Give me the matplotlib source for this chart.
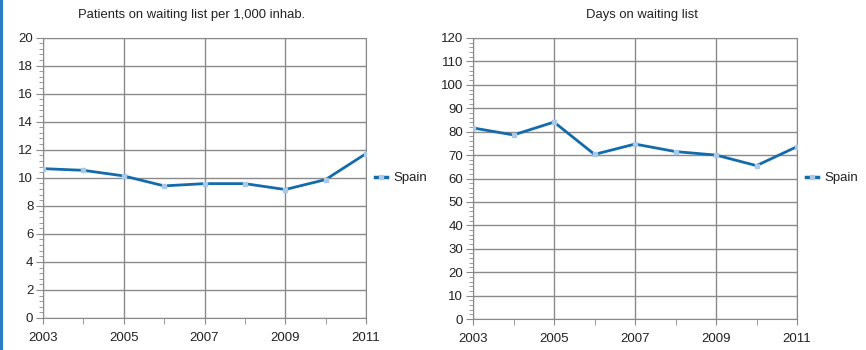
import matplotlib
matplotlib.use('Agg')
import matplotlib.pyplot as plt
from matplotlib.ticker import MultipleLocator
from matplotlib.lines import Line2D

plt.rcParams['font.family'] = ['Liberation Sans', 'DejaVu Sans']
plt.rcParams['font.size'] = 9.5

years = [2003, 2004, 2005, 2006, 2007, 2008, 2009, 2010, 2011]
patients_per_1000 = [10.65, 10.53, 10.13, 9.42, 9.58, 9.58, 9.16, 9.87, 11.72]
days_on_list = [81.6, 78.6, 84.1, 70.3, 74.7, 71.5, 70.0, 65.5, 73.6]
country = "Spain"

LINE = "#136bab"
MARK = "#a9c9e8"
GRID = "#8a8a8a"
TEXT = "#222222"

fig = plt.figure(figsize=(8.66, 3.5), dpi=100)

# blue rule on the left edge of the page
fig.add_artist(Line2D([0.0015, 0.0015], [0, 1], color="#2b7cc4", lw=2.2,
                      transform=fig.transFigure))


def draw_panel(rect, values, ymax, ystep, yminor, title, title_x, legend_x):
    ax = fig.add_axes(rect)
    ax.plot(years, values, color=LINE, lw=2, marker="s", ms=3.2,
            mfc=MARK, mec=MARK, zorder=3)
    ax.set_xlim(2003, 2011)
    ax.set_ylim(0, ymax)
    ax.xaxis.set_major_locator(MultipleLocator(2))
    ax.xaxis.set_minor_locator(MultipleLocator(1))
    ax.yaxis.set_major_locator(MultipleLocator(ystep))
    ax.yaxis.set_minor_locator(MultipleLocator(yminor))
    ax.grid(True, which="major", color=GRID, lw=1)
    for s in ax.spines.values():
        s.set_color(GRID)
    ax.tick_params(which="both", colors=GRID, labelcolor=TEXT, direction="out")
    ax.tick_params(axis="x", which="both", length=4, pad=6)
    ax.tick_params(axis="y", which="major", length=5, pad=2)
    ax.tick_params(axis="y", which="minor", length=3)
    ax.set_xticks(range(2003, 2012, 2))
    ax.set_xticklabels([str(y) for y in range(2003, 2012, 2)])
    fig.text(title_x, 1 - 15 / 350, title, ha="center", va="center",
             color=TEXT, fontsize=9.4)
    handle = Line2D([], [], color=LINE, lw=2.5, marker="s", ms=3.5,
                    mfc=MARK, mec=MARK)
    fig.legend([handle], [country], loc="center left",
               bbox_to_anchor=(legend_x, 1 - 178 / 350), frameon=False,
               borderaxespad=0, borderpad=0,
               handlelength=0.9, handletextpad=0.5, fontsize=9.5,
               labelcolor=TEXT)
    return ax


draw_panel([43 / 866, 1 - 318 / 350, 323 / 866, 280.5 / 350],
           patients_per_1000, 20, 2, 0.4,
           "Patients on waiting list per 1,000 inhab.", 192 / 866, 375 / 866)
draw_panel([473 / 866, 1 - 319 / 350, 324 / 866, 281 / 350],
           days_on_list, 120, 10, 2,
           "Days on waiting list", 642 / 866, 806 / 866)

fig.savefig("out.png", dpi=100)
